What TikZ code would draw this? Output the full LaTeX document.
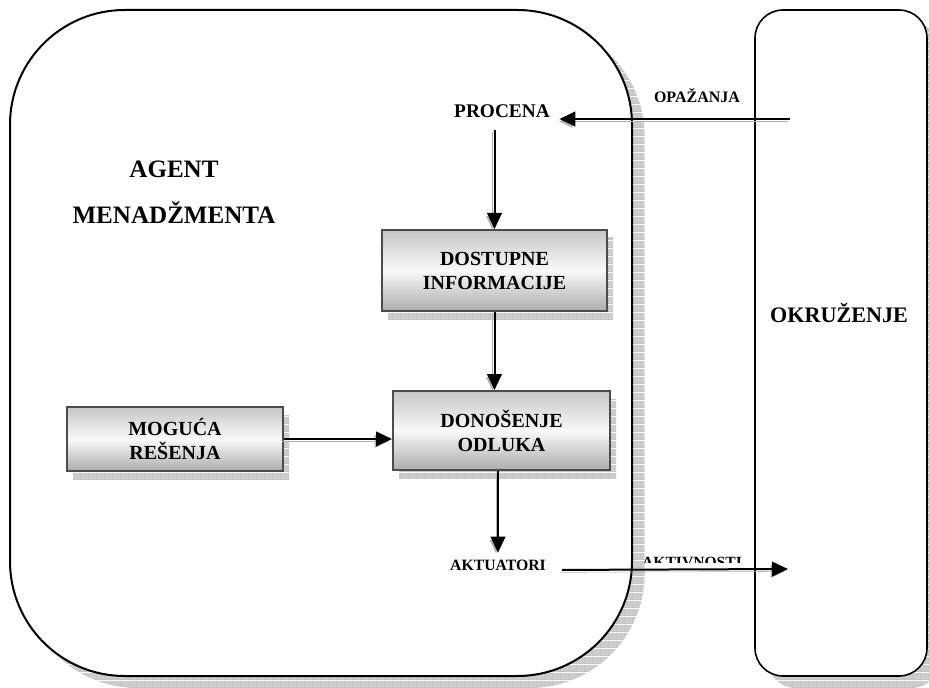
\documentclass[tikz,border=0pt]{standalone}
\usepackage{fontspec}
\setmainfont{Liberation Serif}
\usetikzlibrary{arrows.meta,patterns.meta}

% grey checked shadow
\pgfdeclarepattern{
  name=shadowgrid,
  type=colored,
  bottom left={\pgfpointorigin},
  top right={\pgfpoint{6pt}{6pt}},
  tile size={\pgfpoint{6pt}{6pt}},
  code={
    \pgfsetfillcolor{gray!40}
    \pgfpathrectangle{\pgfpointorigin}{\pgfpoint{6pt}{6pt}}
    \pgfusepath{fill}
    \pgfsetstrokecolor{gray!75}
    \pgfsetlinewidth{0.4pt}
    \pgfpathmoveto{\pgfpointorigin}
    \pgfpathlineto{\pgfpoint{6pt}{0pt}}
    \pgfpathmoveto{\pgfpointorigin}
    \pgfpathlineto{\pgfpoint{0pt}{6pt}}
    \pgfusepath{stroke}
  }
}

\begin{document}
\begin{tikzpicture}[
    x=0.75pt, y=-0.75pt,
    frame/.style={rectangle, draw=black, line width=1.5pt, fill=white, inner sep=0pt, preaction={pattern=shadowgrid, transform canvas={shift={(9.5pt,-9pt)}}}},
    box/.style={rectangle, draw=black!70, line width=1.5pt, top color=gray!45, bottom color=gray!65, middle color=gray!5, align=center, inner sep=0pt, font=\bfseries\fontsize{15}{18}\selectfont, preaction={pattern=shadowgrid, transform canvas={shift={(4.5pt,-6pt)}}}},
    labeltext/.style={font=\bfseries\fontsize{#1}{#1}\selectfont, anchor=base, inner sep=2pt},
    arrow/.style={-{Triangle[length=12pt,width=11pt]}, line width=1.5pt, preaction={draw=gray!60, transform canvas={shift={(-1.5pt,-1.8pt)}}}}
]
\useasboundingbox (0,0) rectangle (929,688);

% Containers
\node[frame, minimum width=466.5pt, minimum height=499.5pt, rounded corners=86pt] (agent) at (321,343) {};
\node[frame, line width=1.2pt, minimum width=129pt, minimum height=499.5pt, rounded corners=21pt] (env) at (841,343) {};

\node[align=center, inner sep=0pt, font=\bfseries\fontsize{18.8}{34.5}\selectfont] (agenttitle) at (174,192) {AGENT\\MENADŽMENTA};
\node[labeltext=16.6] (okruzenje) at (839,322) {OKRUŽENJE};

% Boxes
\node[box, minimum width=168.75pt, minimum height=60.75pt] (info) at (494.5,270.5) {DOSTUPNE\\INFORMACIJE};
\node[box, minimum width=162.75pt, minimum height=59.25pt] (decision) at (501.5,430.5) {DONOŠENJE\\ODLUKA};
\node[box, minimum width=162pt, minimum height=48pt] (options) at (175,439) {MOGUĆA\\REŠENJA};

% Labels
\node[labeltext=14.5] (procena) at (502,118) {PROCENA};
\node[labeltext=12] (opazanja) at (697,103) {OPAŽANJA};
\node[labeltext=11.8] (aktuatori) at (498,570) {AKTUATORI};
\begin{scope}
\clip (600,540) rectangle (780,562);
\node[labeltext=11.7] (aktivnosti) at (692,567.5) {AKTIVNOSTI};
\end{scope}

\coordinate (percept) at (790,119);
\coordinate (actout) at (788,569);

% Arrows
\draw[arrow, shorten >=5pt] (percept) -- (percept -| procena.east);
\draw[arrow] ([yshift=-9pt]procena.base -| info.north) -- (info.north);
\draw[arrow] (info.south) -- (info.south |- decision.north);
\draw[arrow] (options.east) -- (options.east -| decision.west);
\draw[arrow, shorten >=3pt] (aktuatori.north |- decision.south) -- (aktuatori.north);
\draw[arrow, shorten <=10pt] (aktuatori.base east) -- (actout);

\end{tikzpicture}
\end{document}
